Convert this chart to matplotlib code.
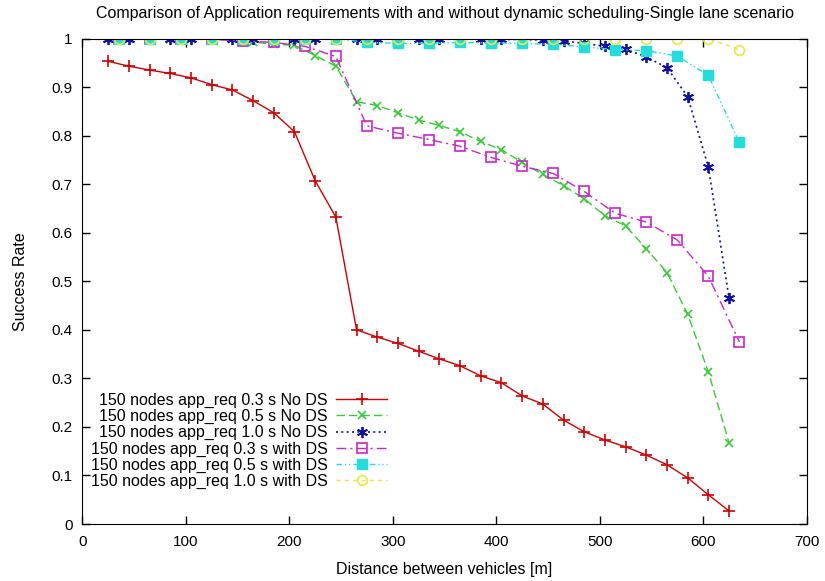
import matplotlib.pyplot as plt
from matplotlib.ticker import FuncFormatter

plt.rcParams['font.family'] = ['Liberation Sans', 'DejaVu Sans']

# distances (m) for runs without dynamic scheduling (every 20 m)
x_nods = [25, 45, 65, 85, 105, 125, 145, 165, 185, 205, 225, 245, 265, 285, 305,
          325, 345, 365, 385, 405, 425, 445, 465, 485, 505, 525, 545, 565, 585, 605, 625]
# distances (m) for runs with dynamic scheduling (every 30 m)
x_ds = [35, 65, 95, 125, 155, 185, 215, 245, 275, 305, 335, 365, 395, 425, 455,
        485, 515, 545, 575, 605, 635]

req03_nods = [0.953, 0.943, 0.935, 0.928, 0.919, 0.905, 0.894, 0.872, 0.847, 0.808,
              0.707, 0.632, 0.400, 0.385, 0.372, 0.356, 0.340, 0.326, 0.305, 0.291,
              0.264, 0.247, 0.214, 0.190, 0.173, 0.159, 0.142, 0.122, 0.095, 0.060, 0.027]
req05_nods = [1.0, 1.0, 1.0, 1.0, 1.0, 1.0, 1.0, 0.993, 0.988, 0.986, 0.965, 0.943,
              0.870, 0.862, 0.847, 0.832, 0.821, 0.808, 0.788, 0.771, 0.745, 0.720,
              0.697, 0.670, 0.635, 0.614, 0.567, 0.518, 0.432, 0.313, 0.167]
req10_nods = [1.0, 1.0, 1.0, 1.0, 1.0, 1.0, 1.0, 1.0, 1.0, 1.0, 1.0, 1.0, 1.0, 1.0,
              1.0, 0.999, 0.999, 0.999, 0.999, 0.998, 0.998, 0.997, 0.995, 0.990,
              0.984, 0.978, 0.962, 0.940, 0.880, 0.735, 0.465]
req03_ds = [1.0, 1.0, 1.0, 0.998, 0.995, 0.992, 0.984, 0.963, 0.820, 0.805, 0.792,
            0.778, 0.755, 0.737, 0.722, 0.685, 0.640, 0.622, 0.585, 0.510, 0.375]
req05_ds = [1.0, 1.0, 1.0, 1.0, 1.0, 1.0, 1.0, 1.0, 0.992, 0.990, 0.990, 0.992,
            0.991, 0.990, 0.988, 0.983, 0.977, 0.975, 0.964, 0.924, 0.786]
req10_ds = [1.0, 1.0, 1.0, 1.0, 1.0, 1.0, 1.0, 1.0, 1.0, 1.0, 1.0, 1.0, 1.0, 1.0,
            1.0, 1.0, 1.0, 1.0, 1.0, 1.0, 0.977]

fig = plt.figure(figsize=(8.25, 5.81), dpi=100)
ax = fig.add_axes([0.0998, 0.0981, 0.878, 0.8356])

asterisk = (6, 2, 0)
ax.plot(x_nods, req03_nods, color='#d00000', lw=1, marker='+', ms=9, mew=1.2,
        label='150 nodes app_req 0.3 s No DS')
ax.plot(x_nods, req05_nods, color='#33cc33', lw=1, ls=(0, (6, 3)), marker='x', ms=6,
        mew=1.2, label='150 nodes app_req 0.5 s No DS')
ax.plot(x_nods, req10_nods, color='#1010b0', lw=1.2, ls=(0, (1.2, 2)), marker=asterisk,
        ms=8, mew=1.3, label='150 nodes app_req 1.0 s No DS')
ax.plot(x_ds, req03_ds, color='#cc22cc', lw=1, ls=(0, (7, 3, 1.5, 3)), marker='s', ms=7,
        mfc='none', mew=1.2, label='150 nodes app_req 0.3 s with DS')
ax.plot(x_ds, req05_ds, color='#22dddd', lw=1, ls=(0, (4, 2, 1, 2, 1, 2)), marker='s',
        ms=7, label='150 nodes app_req 0.5 s with DS')
ax.plot(x_ds, req10_ds, color='#e8e840', lw=1, ls=(0, (3, 3)), marker='o', ms=7,
        mfc='none', mew=1.2, label='150 nodes app_req 1.0 s with DS')

ax.set_xlim(0, 700)
ax.set_ylim(0, 1)
ax.set_xticks(range(0, 701, 100))
ax.set_yticks([i / 10 for i in range(11)])
ax.yaxis.set_major_formatter(FuncFormatter(lambda v, p: '%g' % round(v, 1)))
ax.tick_params(direction='in', top=True, right=True, length=6, width=1, labelsize=11)
ax.tick_params(axis='y', pad=7)
ax.tick_params(axis='x', pad=8)

ax.set_title('Comparison of Application requirements with and without dynamic scheduling-Single lane scenario',
             fontsize=11.5, pad=15)
ax.set_xlabel('Distance between vehicles [m]', fontsize=11.5, labelpad=9)
ax.set_ylabel('Success Rate', fontsize=11.5, labelpad=17)

ax.legend(loc='upper right', bbox_to_anchor=(0.479, 0.338), bbox_transform=fig.transFigure,
          frameon=False, markerfirst=False, fontsize=11.5, handlelength=3.2,
          labelspacing=0.07, handletextpad=0.5, borderpad=0)

fig.savefig('out.png', dpi=100)
